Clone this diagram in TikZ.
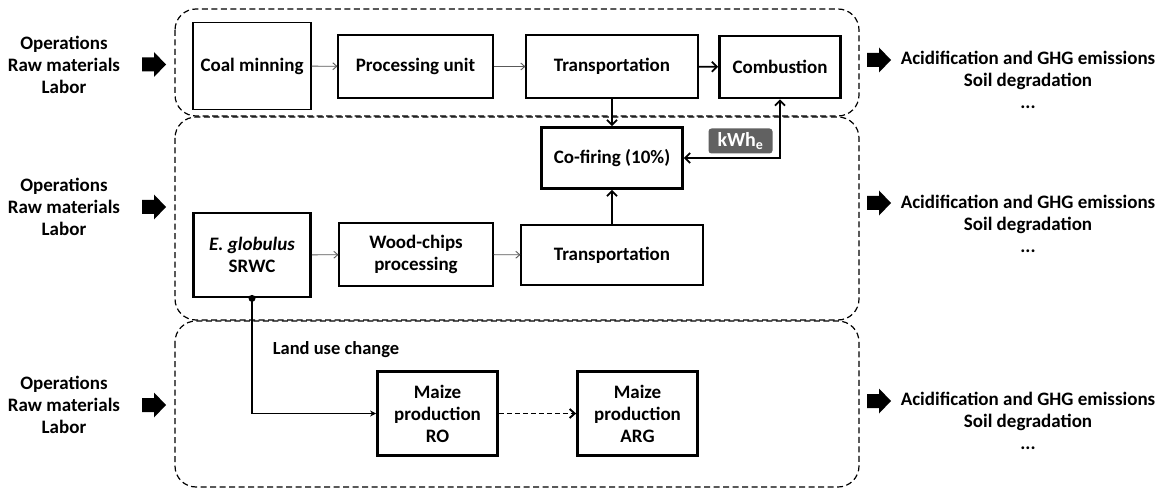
\documentclass[tikz,border=0pt]{standalone}
\usepackage{fontspec}
\setmainfont{Carlito}
\usetikzlibrary{arrows.meta}
\tikzset{
  base/.style={draw=black, align=center, font=\bfseries\fontsize{19}{22}\selectfont, inner sep=2pt},
  thinbox/.style={base, line width=1.1pt},
  thickbox/.style={base, line width=2.8pt},
  region/.style={draw=black, dashed, dash pattern=on 6pt off 3.5pt, line width=1.2pt, rounded corners=21pt},
  thinarr/.style={draw=gray!70!black, line width=0.9pt, -{Straight Barb[length=4pt,width=7pt]}},
  thickarr/.style={draw=black, line width=1.8pt, -{Straight Barb[length=5pt,width=10pt]}},
  sidetext/.style={align=center, font=\bfseries\fontsize{19}{22}\selectfont},
  blockarr/.style={fill=black},
  kwh/.style={fill=black!62, rounded corners=3pt, text=white, font=\bfseries\fontsize{20}{22}\selectfont, inner sep=3pt, minimum width=64pt, minimum height=25pt}
}
\newcommand\fatarrowat[2]{%
  \fill[blockarr] (#1-12,#2-7) -- (#1,#2-7) -- (#1,#2-12.5) -- (#1+12,#2) -- (#1,#2+12.5) -- (#1,#2+7) -- (#1-12,#2+7) -- cycle;}
\begin{document}
\begin{tikzpicture}[x=1pt,y=-1pt]
\useasboundingbox (0,0) rectangle (1164,489);
% regions
\draw[region] (175,9) rectangle (859,116);
\draw[region] (175,117) rectangle (859,320);
\draw[region] (175,321) rectangle (859,487);
% top row
\node[thinbox, minimum width=118pt, minimum height=87pt] (coal) at (252,66) {Coal minning};
\node[thinbox, minimum width=155pt, minimum height=63pt] (proc) at (415.5,66.5) {Processing unit};
\node[thinbox, minimum width=172pt, minimum height=63pt] (tr1) at (612,66.5) {Transportation};
\node[thickbox, minimum width=121pt, minimum height=62pt] (comb) at (780,67) {Combustion};
\node[thickbox, minimum width=141pt, minimum height=61pt] (cof) at (612,158) {Co-firing (10\%)};
% middle row
\node[thickbox, minimum width=117pt, minimum height=84pt] (egl) at (252,255) {\textit{E. globulus}\\SRWC};
\node[thinbox, minimum width=154pt, minimum height=63pt] (wood) at (416,254.5) {Wood-chips\\processing};
\node[thinbox, minimum width=182pt, minimum height=60pt] (tr2) at (612,255) {Transportation};
% bottom row
\node[thickbox, minimum width=120pt, minimum height=84pt] (ro) at (437.5,413.5) {Maize\\production\\RO};
\node[thickbox, minimum width=120pt, minimum height=84pt] (arg) at (637.5,413.5) {Maize\\production\\ARG};
\node[font=\bfseries\fontsize{18.5}{22}\selectfont] (luc) at (336,350) {Land use change};
% kWh label
\node[kwh] (kw) at (740.5,141) {kWh\textsubscript{e}};
% connectors
\draw[thinarr] (coal) -- (proc);
\draw[thinarr] (proc) -- (tr1);
\draw[thickarr] (tr1) -- (comb);
\draw[thickarr] (tr1.south) -- (cof.north);
\draw[thickarr] (tr2.north) -- (cof.south);
\draw[thickarr, {Straight Barb[length=5pt,width=10pt]}-{Straight Barb[length=5pt,width=10pt]}] (cof.east) -| (comb.south);
\draw[thinarr] (egl) -- (wood);
\draw[thinarr] (wood) -- (tr2);
\fill (egl.south) circle (3.5pt);
\draw[line width=1.8pt, -{Stealth[length=6pt,width=6pt]}] (egl.south) |- (ro.west);
\draw[line width=1.9pt, dashed, dash pattern=on 5pt off 3pt, -{Straight Barb[length=5pt,width=9pt]}] (ro) -- (arg);
% side texts
\node[sidetext] (in1) at (64,65) {Operations\\Raw materials\\Labor};
\node[sidetext] (in2) at (64,207) {Operations\\Raw materials\\Labor};
\node[sidetext] (in3) at (64,405) {Operations\\Raw materials\\Labor};
\node[sidetext] (out1) at (1028,80) {Acidification and GHG emissions\\Soil degradation\\...};
\node[sidetext] (out2) at (1028,224) {Acidification and GHG emissions\\Soil degradation\\...};
\node[sidetext] (out3) at (1028,421) {Acidification and GHG emissions\\Soil degradation\\...};
\fatarrowat{154}{64.5}
\fatarrowat{154}{207}
\fatarrowat{154}{405}
\fatarrowat{879}{60}
\fatarrowat{879}{203}
\fatarrowat{879}{401}
\end{tikzpicture}
\end{document}
